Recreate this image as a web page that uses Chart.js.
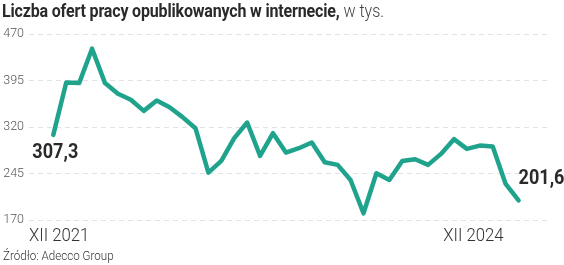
<!DOCTYPE html>
<html>
<head>
<meta charset="utf-8">
<script src="https://cdn.jsdelivr.net/npm/chart.js@4/dist/chart.umd.min.js"></script>
<style>
  html, body { margin: 0; padding: 0; background: #fff; }
  #wrap { position: relative; width: 564px; height: 265px; overflow: hidden; }
  #c { position: absolute; left: 0; top: 0; }
  .title { position: absolute; left: 2px; top: 0px; white-space: nowrap; font-family: Roboto, sans-serif; font-size: 18px; color: #2a2a2a; transform-origin: 0 0; transform: scaleX(0.89); }
  .title b { font-weight: 700; letter-spacing: -0.2px; }
  .title span { font-weight: 300; color: #444; }
  .source { position: absolute; left: 3px; top: 247px; white-space: nowrap; font-family: Roboto, sans-serif; font-size: 13.5px; font-weight: 300; color: #333; transform-origin: 0 0; transform: scaleX(0.86); }
</style>
</head>
<body>
<div id="wrap">
  <canvas id="c" width="564" height="265"></canvas>
  <div class="title"><b>Liczba ofert pracy opublikowanych w internecie,</b><span> w tys.</span></div>
  <div class="source">Źródło: Adecco Group</div>
</div>
<script>
const categories = ["XII 2021","I 2022","II 2022","III 2022","IV 2022","V 2022","VI 2022","VII 2022","VIII 2022","IX 2022","X 2022","XI 2022","XII 2022",
  "I 2023","II 2023","III 2023","IV 2023","V 2023","VI 2023","VII 2023","VIII 2023","IX 2023","X 2023","XI 2023","XII 2023",
  "I 2024","II 2024","III 2024","IV 2024","V 2024","VI 2024","VII 2024","VIII 2024","IX 2024","X 2024","XI 2024","XII 2024"];
const values = [307.3, 391.8, 390.8, 446.3, 390.8, 373.6, 363.9, 346, 362.7, 352, 335.9, 318.1, 246.4,
  265.3, 302, 327.2, 273.4, 310, 278.7, 285.8, 294.9, 263.2, 258.9, 234.6, 180.8,
  245.4, 234.6, 265.3, 268, 258.9, 276.6, 300.4, 284.7, 290, 288.4, 228.2, 201.6];
const yTicks = [170, 245, 320, 395, 470];
const xTickLabels = ["XII 2021", "XII 2024"];
const valueLabels = ["307,3", "201,6"];

const points = values.map((v, i) => ({ x: i, y: v }));

const labelPlugin = {
  id: 'labels',
  afterDatasetsDraw(chart) {
    const ctx = chart.ctx;
    const meta = chart.getDatasetMeta(0);
    const first = meta.data[0];
    const last = meta.data[meta.data.length - 1];
    function txt(s, x, y, align, font, color, sx) {
      ctx.save();
      ctx.font = font;
      ctx.fillStyle = color;
      ctx.textBaseline = 'middle';
      const w = ctx.measureText(s).width * sx;
      let left = x;
      if (align === 'center') left = x - w / 2;
      if (align === 'right') left = x - w;
      ctx.translate(left, y);
      ctx.scale(sx, 1);
      ctx.textAlign = 'left';
      ctx.fillText(s, 0, 0);
      ctx.restore();
    }
    const bold = '700 21px Roboto, sans-serif';
    txt(valueLabels[0], first.x + 2, first.y + 18, 'center', bold, '#2a2a2a', 0.86);
    txt(valueLabels[1], last.x, last.y - 22, 'left', bold, '#2a2a2a', 0.86);
    const light = '300 18px Roboto, sans-serif';
    const area = chart.chartArea;
    txt(xTickLabels[0], area.left, area.bottom + 16, 'left', light, '#333', 0.93);
    txt(xTickLabels[1], last.x - 15, area.bottom + 16, 'right', light, '#333', 0.93);
  }
};

new Chart(document.getElementById('c'), {
  type: 'line',
  data: {
    datasets: [{
      data: points,
      borderColor: '#20a38c',
      borderWidth: 4.5,
      pointRadius: 0,
      tension: 0,
      borderJoinStyle: 'round',
      borderCapStyle: 'round',
      fill: false
    }]
  },
  options: {
    responsive: false,
    animation: false,
    layout: { padding: { top: 34, bottom: 45, left: 0, right: 17 } },
    plugins: { legend: { display: false }, tooltip: { enabled: false }, title: { display: false } },
    scales: {
      x: {
        type: 'linear',
        min: -1.88,
        max: 38.2,
        display: false
      },
      y: {
        min: 170,
        max: 470,
        afterFit(axis) { axis.width = 29; },
        afterBuildTicks(axis) { axis.ticks = yTicks.map(v => ({ value: v })); },
        border: { display: false, dash: [5, 4] },
        grid: { color: '#e2e2e2', lineWidth: 1, drawTicks: false },
        ticks: {
          padding: 5,
          color: '#555',
          font: { family: 'Roboto, sans-serif', size: 12.5, weight: '300' }
        }
      }
    }
  },
  plugins: [labelPlugin]
});
</script>
</body>
</html>
